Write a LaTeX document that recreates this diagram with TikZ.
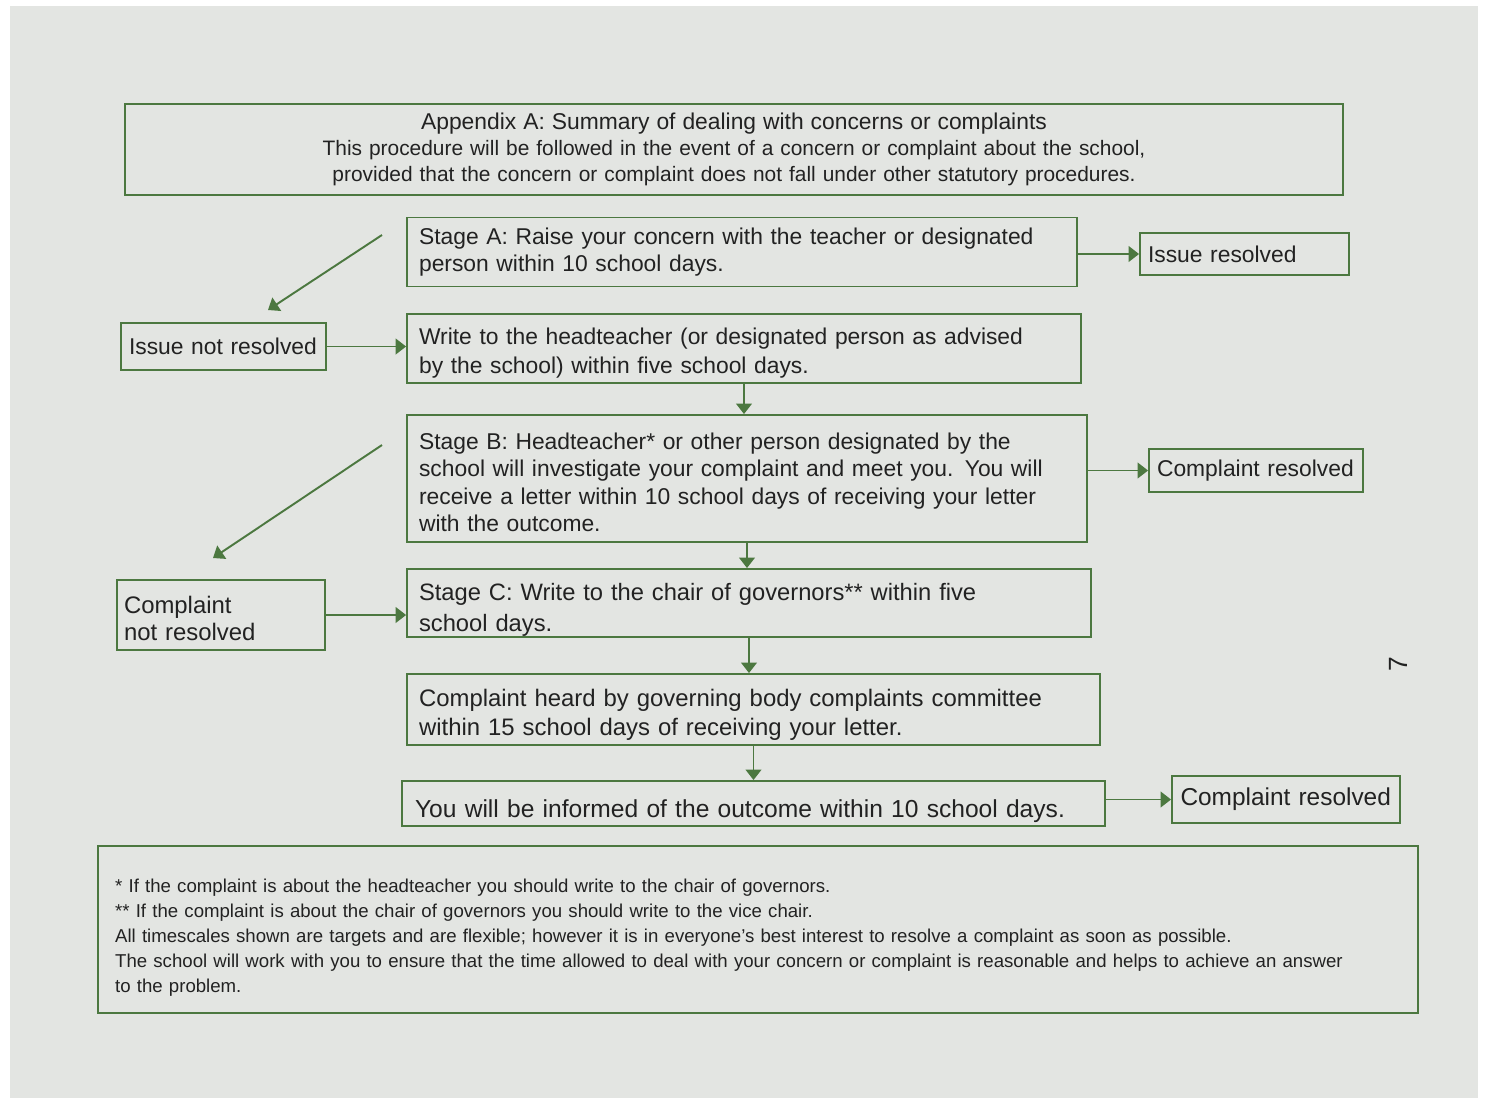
\documentclass[tikz,border=0pt]{standalone}
\usepackage{fontspec}
\setmainfont{Liberation Sans}
\usetikzlibrary{arrows.meta, positioning}
\definecolor{boxgreen}{RGB}{76,120,64}
\definecolor{inkgrey}{RGB}{34,34,34}
\definecolor{paper}{RGB}{227,229,226}
\tikzset{
  box/.style={draw=boxgreen, line width=1.1pt, text=inkgrey, align=left, inner xsep=0.24cm, inner ysep=0pt, font=\fontsize{13}{15.5}\selectfont},
  smallbox/.style={box, inner xsep=0.16cm},
  link/.style={draw=boxgreen, line width=1.1pt, -{Triangle[length=6pt,width=9pt]}}
}

\begin{document}
\begin{tikzpicture}[x=0.02cm, y=-0.02cm]
	\fill[white] (0,0) rectangle (1485,1100);
	\fill[paper] (10,6) rectangle (1478,1098);

	\node[box, align=center, text width=23.88cm, minimum height=1.82cm, font=\fontsize{11.9}{14.8}\selectfont] (head) at (734,149.5)
		{{\fontsize{13}{14.8}\selectfont Appendix A: Summary of dealing with concerns or complaints}\\
		This procedure will be followed in the event of a concern or complaint about the school,\\
		provided that the concern or complaint does not fall under other statutory procedures.};

	\node[box, text width=12.92cm, minimum height=1.38cm] (stageA) at (742,252)
		{Stage A: Raise your concern with the teacher or designated\\ person within 10 school days.};
	\node[box, text width=13cm, minimum height=1.38cm, font=\fontsize{13}{16.3}\selectfont] (write) at (744,348.5)
		{\rule{0pt}{0.52cm}Write to the headteacher (or designated person as advised\\ by the school) within five school days.};
	\node[box, text width=13.12cm, minimum height=2.54cm] (stageB) at (747,478.5)
		{\rule{0pt}{0.48cm}Stage B: Headteacher* or other person designated by the\\ school will investigate your complaint and meet you. You will\\ receive a letter within 10 school days of receiving your letter\\ with the outcome.};
	\node[box, text width=13.2cm, minimum height=1.36cm, font=\fontsize{13.5}{17.4}\selectfont] (stageC) at (749,603)
		{\rule{0pt}{0.62cm}Stage C: Write to the chair of governors** within five\\ school days.};
	\node[box, text width=13.38cm, minimum height=1.42cm, font=\fontsize{13.6}{16.8}\selectfont] (heard) at (753.5,709.5)
		{\rule{0pt}{0.56cm}Complaint heard by governing body complaints committee\\ within 15 school days of receiving your letter.};
	\node[box, inner xsep=0.26cm, text width=13.54cm, minimum height=0.9cm, font=\fontsize{14}{16}\selectfont] (outcome) at (753.5,803.5)
		{\rule{0pt}{0.66cm}You will be informed of the outcome within 10 school days.};

	% right side
	\node[smallbox, text width=3.86cm, minimum height=0.84cm] (issueres) at (1244.5,254) {Issue resolved};
	\node[smallbox, text width=3.96cm, minimum height=0.86cm] (compresB) at (1256,470.5) {Complaint resolved};
	\node[smallbox, inner xsep=0.17cm, text width=4.22cm, minimum height=0.94cm, font=\fontsize{13.9}{16}\selectfont] (compresD) at (1286,799.5) {Complaint resolved};

	% left side
	\node[smallbox, text width=3.78cm, minimum height=0.94cm] (issuenot) at (223.5,346.5) {Issue not resolved};
	\node[smallbox, inner xsep=0.14cm, text width=3.88cm, minimum height=1.4cm, font=\fontsize{13.6}{15.8}\selectfont] (compnot) at (221,615) {\rule{0pt}{0.48cm}Complaint\\ not resolved};

	\coordinate (fromA) at (382,235);
	\coordinate (toA) at (268,310);
	\coordinate (fromB) at (382,445);
	\coordinate (toB) at (213,558);

	\draw[link] (fromA) -- (toA);
	\draw[link] (fromB) -- (toB);
	\draw[link] (issuenot.east) -- (issuenot.east -| write.west);
	\draw[link] (compnot.east) -- (compnot.east -| stageC.west);

	\draw[link] (issueres.west -| stageA.east) -- (issueres.west);
	\draw[link] (compresB.west -| stageB.east) -- (compresB.west);
	\draw[link] (compresD.west -| outcome.east) -- (compresD.west);

	\draw[link] (write.south) -- (write.south |- stageB.north);
	\draw[link] (stageB.south) -- (stageB.south |- stageC.north);
	\draw[link] (stageC.south) -- (stageC.south |- heard.north);
	\draw[link] (heard.south) -- (heard.south |- outcome.north);

	\node[box, inner xsep=0.34cm, text width=25.72cm, minimum height=3.34cm, font=\fontsize{10.6}{14.2}\selectfont] (notes) at (758,929.5)
		{\rule{0pt}{0.6cm}* If the complaint is about the headteacher you should write to the chair of governors.\\{}
		** If the complaint is about the chair of governors you should write to the vice chair.\\
		All timescales shown are targets and are flexible; however it is in everyone’s best interest to resolve a complaint as soon as possible.\\
		The school will work with you to ensure that the time allowed to deal with your concern or complaint is reasonable and helps to achieve an answer\\
		to the problem.};

	\node[text=inkgrey, rotate=90, font=\fontsize{15}{16}\selectfont] (pagenum) at (1398,664) {7};
\end{tikzpicture}
\end{document}
